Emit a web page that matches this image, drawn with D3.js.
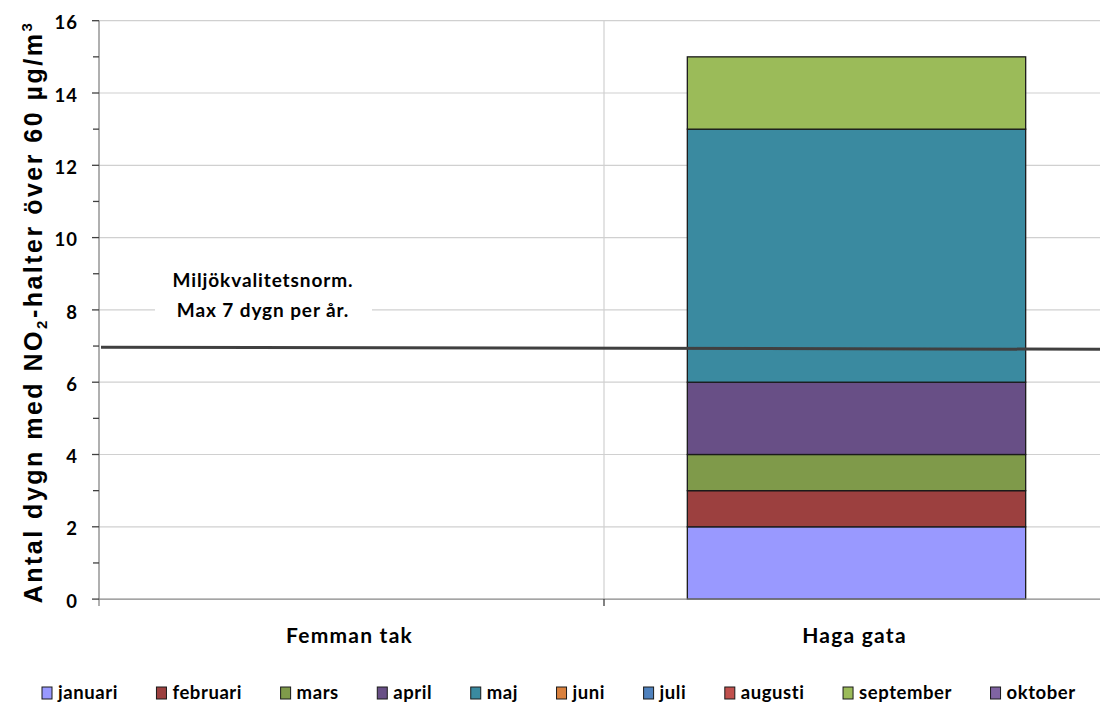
<!DOCTYPE html>
<html>
<head>
<meta charset="utf-8">
<script src="https://cdn.jsdelivr.net/npm/d3@7"></script>
<style>
  html, body { margin: 0; padding: 0; background: #fff; }
  svg { display: block; }
  text { font-family: Lato, "Open Sans", sans-serif; font-weight: bold; fill: #000; }
</style>
</head>
<body>
<svg id="chart" width="1100" height="704"></svg>
<script>
// ---- data ----
const categories = ["Femman tak", "Haga gata"];
const months = ["januari", "februari", "mars", "april", "maj", "juni", "juli", "augusti", "september", "oktober"];
const monthColors = ["#9999FF", "#9C403F", "#7F9A4A", "#684F86", "#3A8AA0", "#D9803D", "#4F81BD", "#C0504D", "#9BBB59", "#8064A2"];
// days per month for each station (Femman tak, Haga gata)
const femmanTak = [0, 0, 0, 0, 0, 0, 0, 0, 0, 0];
const hagaGata  = [2, 1, 1, 2, 7, 0, 0, 0, 2, 0];
const yTicks = [0, 2, 4, 6, 8, 10, 12, 14, 16];
const yMinorTicks = [1, 3, 5, 7, 9, 11, 13, 15];
const normLine = [6.97, 6.91];   // line value at left and right edge
const normLabel = ["Miljökvalitetsnorm.", "Max 7 dygn per år."];

// ---- helpers ----
function fitSpacing(node, target) {
  const n = node.textContent.length;
  const len = node.getComputedTextLength();
  return (target - len) / n;
}

// ---- layout ----
const svg = d3.select("#chart");
const pL = 99, pT = 20.7, pB = 599.1, pR = 1109;

const x = d3.scaleBand().domain(categories).range([pL, pR]).padding(0);
const y = d3.scaleLinear().domain([0, 16]).range([pB, pT]);

const seriesData = [femmanTak, hagaGata];
const stackRows = categories.map((c, i) => {
  const o = { cat: c };
  months.forEach((m, j) => o[m] = seriesData[i][j]);
  return o;
});
const stacked = d3.stack().keys(months)(stackRows);

// gridlines
svg.append("g").selectAll("line").data(yTicks.filter(d => d > 0)).join("line")
  .attr("x1", pL).attr("x2", pR)
  .attr("y1", d => y(d)).attr("y2", d => y(d))
  .attr("stroke", "#d0d0d0").attr("stroke-width", 1.2);

// vertical category separator gridline
svg.append("line")
  .attr("x1", x(categories[1])).attr("x2", x(categories[1]))
  .attr("y1", pT).attr("y2", pB)
  .attr("stroke", "#d0d0d0").attr("stroke-width", 1.2);

// bars
const barFrac = 0.67;
const bw = x.bandwidth() * barFrac;
const gBars = svg.append("g");
stacked.forEach((layer, j) => {
  gBars.selectAll(null).data(layer.filter(d => d[1] - d[0] > 0)).join("rect")
    .attr("x", d => x(d.data.cat) + (x.bandwidth() - bw) / 2)
    .attr("width", bw)
    .attr("y", d => y(d[1]))
    .attr("height", d => y(d[0]) - y(d[1]))
    .attr("fill", monthColors[j])
    .attr("stroke", "#1a1a1a").attr("stroke-width", 1.3);
});

// annotation label with white background
const annX = 263;
svg.append("rect")
  .attr("x", 155).attr("y", y(8) - 40).attr("width", 217).attr("height", 54)
  .attr("fill", "#fff");
const ann = svg.append("g").selectAll("text").data(normLabel).join("text")
  .attr("x", annX).attr("y", (d, i) => y(8) - 23 + i * 30)
  .attr("text-anchor", "middle")
  .attr("font-size", 19)
  .text(d => d);
{
  const ls = fitSpacing(ann.nodes()[0], 181);
  ann.attr("letter-spacing", ls);
}

// norm line
svg.append("line")
  .attr("x1", pL + 2).attr("x2", 1100)
  .attr("y1", y(normLine[0])).attr("y2", y(normLine[1]))
  .attr("stroke", "#404040").attr("stroke-width", 3);

// y axis
const yAxis = svg.append("g").attr("transform", `translate(${pL},0)`);
yAxis.append("line").attr("x1", 0).attr("x2", 0).attr("y1", pT).attr("y2", pB + 7)
  .attr("stroke", "#868686").attr("stroke-width", 1.3);
yAxis.selectAll(".maj").data(yTicks).join("line")
  .attr("x1", -7).attr("x2", 0).attr("y1", d => y(d)).attr("y2", d => y(d))
  .attr("stroke", "#404040").attr("stroke-width", 1.3);
yAxis.selectAll(".min").data(yMinorTicks).join("line")
  .attr("x1", -6).attr("x2", 0).attr("y1", d => y(d)).attr("y2", d => y(d))
  .attr("stroke", "#404040").attr("stroke-width", 1.3);
yAxis.selectAll("text").data(yTicks).join("text")
  .attr("x", -21).attr("y", d => y(d) + 2).attr("dy", "0.36em")
  .attr("text-anchor", "end").attr("font-size", 18.5).attr("letter-spacing", 1)
  .text(d => d);

// x axis
svg.append("line").attr("x1", pL).attr("x2", pR).attr("y1", pB).attr("y2", pB)
  .attr("stroke", "#868686").attr("stroke-width", 1.3);
svg.append("line").attr("x1", x(categories[1])).attr("x2", x(categories[1]))
  .attr("y1", pB).attr("y2", pB + 7)
  .attr("stroke", "#404040").attr("stroke-width", 1.3);
const catLab = svg.append("g").selectAll("text").data(categories).join("text")
  .attr("x", d => x(d) + x.bandwidth() / 2 - 2)
  .attr("y", 643)
  .attr("text-anchor", "middle").attr("font-size", 21)
  .text(d => d);
{
  const ls = fitSpacing(catLab.nodes()[0], 127);
  catLab.attr("letter-spacing", ls);
}

// y axis title
const yt = svg.append("text")
  .attr("transform", "translate(42,312) rotate(-90)")
  .attr("text-anchor", "middle").attr("font-size", 25)
  .style("font-family", "'Liberation Sans', Arial, sans-serif");
yt.append("tspan").text("Antal dygn med NO");
yt.append("tspan").attr("font-size", 15).attr("dy", 5).text("2");
yt.append("tspan").attr("dy", -5).text("-halter  över 60 µg/m");
yt.append("tspan").attr("font-size", 15).attr("dy", -10).text("3");
{
  const len = yt.node().getComputedTextLength();
  const n = yt.node().textContent.length;
  yt.attr("letter-spacing", (585 - len) / n);
}

// legend
const leg = svg.append("g");
const ly = 691;
const probe = leg.append("text").attr("font-size", 18.5).text("september");
const legLs = fitSpacing(probe.node(), 93);
probe.remove();
let lx = 42;
months.forEach((m, j) => {
  leg.append("rect").attr("x", lx).attr("y", ly - 4).attr("width", 10).attr("height", 12)
    .attr("fill", monthColors[j]).attr("stroke", "#1a1a1a").attr("stroke-width", 1);
  const t = leg.append("text").attr("x", lx + 16).attr("y", ly + 1).attr("dy", "0.36em")
    .attr("font-size", 18.5).attr("letter-spacing", legLs).text(m);
  lx += 16 + t.node().getComputedTextLength() + 38.5;
});
</script>
</body>
</html>
